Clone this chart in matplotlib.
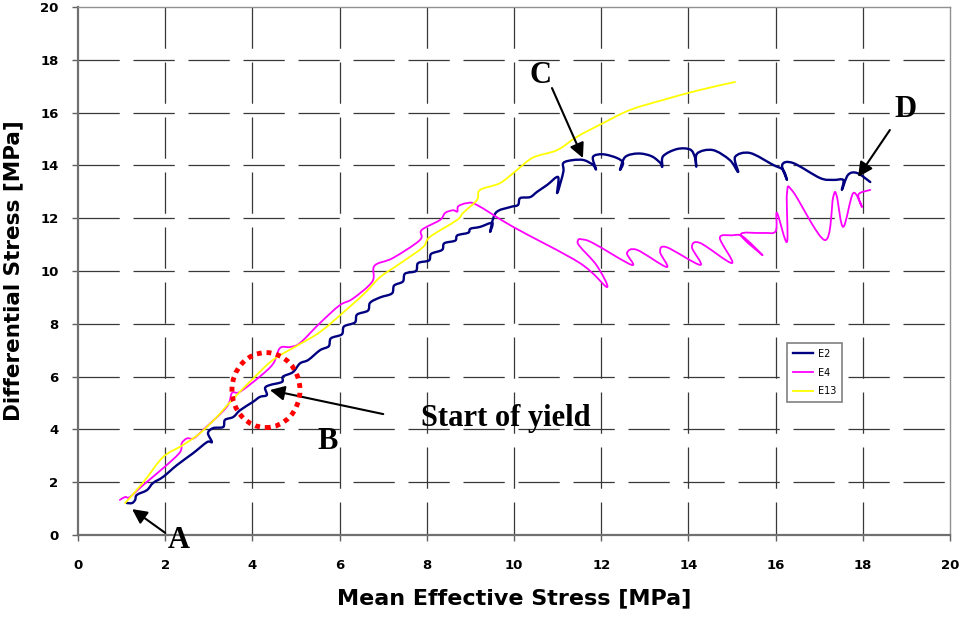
import matplotlib
matplotlib.use("Agg")
import matplotlib.pyplot as plt
import numpy as np
from matplotlib.patches import Ellipse, PathPatch
from matplotlib.path import Path
from matplotlib.lines import Line2D

# Sample E2: mean effective stress / differential stress (MPa)
e2_p = [1.12, 1.24, 1.31, 1.35, 1.58, 1.72, 1.95, 2.27, 2.64, 2.96, 3.07, 2.98, 3.10, 3.33,
        3.37, 3.56, 3.72, 4.01, 4.17, 4.33, 4.29, 4.40, 4.68, 4.70, 4.93, 5.09, 5.28, 5.55,
        5.75, 5.80, 6.05, 6.10, 6.35, 6.40, 6.65, 6.70, 6.93, 7.20, 7.25, 7.45, 7.50, 7.75,
        7.80, 8.05, 8.10, 8.35, 8.40, 8.65, 8.70, 8.95, 9.00, 9.22, 9.50, 9.45, 9.58, 9.91,
        10.09, 10.14, 10.37, 10.53, 10.76, 11.01, 10.99, 11.13, 11.13, 11.35, 11.60, 11.81,
        11.88, 11.81, 12.04, 12.36, 12.50, 12.43, 12.55, 12.85, 13.15, 13.35, 13.40, 13.42,
        13.74, 14.04, 14.15, 14.18, 14.20, 14.56, 14.95, 15.14, 15.07, 15.41, 15.94, 16.17,
        16.26, 16.15, 16.40, 17.02, 17.32, 17.55, 17.52, 17.66, 17.87, 18.17]
e2_q = [1.21, 1.21, 1.33, 1.52, 1.70, 1.97, 2.20, 2.65, 3.10, 3.52, 3.52, 3.86, 4.05, 4.09,
        4.36, 4.47, 4.73, 5.04, 5.23, 5.30, 5.57, 5.68, 5.80, 6.00, 6.17, 6.50, 6.63, 7.00,
        7.15, 7.45, 7.60, 7.90, 8.05, 8.35, 8.50, 8.80, 9.00, 9.15, 9.45, 9.60, 9.90, 10.00,
        10.30, 10.40, 10.65, 10.80, 11.05, 11.15, 11.35, 11.45, 11.60, 11.67, 11.82, 11.48,
        12.20, 12.42, 12.50, 12.76, 12.80, 13.00, 13.26, 13.56, 12.95, 13.75, 14.09, 14.20,
        14.20, 14.02, 13.85, 14.32, 14.42, 14.28, 14.09, 13.83, 14.32, 14.45, 14.35, 14.10,
        13.95, 14.35, 14.62, 14.60, 14.30, 13.95, 14.45, 14.58, 14.20, 13.75, 14.32, 14.47,
        14.02, 13.83, 13.45, 14.02, 14.09, 13.52, 13.45, 13.45, 13.07, 13.64, 13.71, 13.37]

# Sample E4
e4_p = [0.96, 1.08, 1.19, 1.50, 2.00, 2.34, 2.38, 2.50, 2.65, 2.87, 3.41, 3.53, 3.71, 4.17,
        4.48, 4.63, 4.86, 5.09, 5.55, 6.00, 6.30, 6.75, 6.80, 7.22, 7.84, 7.88, 8.30, 8.42,
        8.60, 8.70, 8.72, 8.92, 9.15, 9.98, 11.51, 12.13, 11.90, 11.50, 11.47, 11.55, 11.81,
        12.70, 12.59, 12.82, 13.50, 13.35, 13.50, 14.27, 14.08, 14.27, 15.00, 14.72, 15.00,
        15.25, 15.70, 15.20, 15.70, 16.00, 16.03, 16.26, 16.26, 16.40, 17.13, 17.32, 17.40,
        17.55, 17.78, 17.98, 17.90, 18.17]
e4_q = [1.33, 1.44, 1.44, 1.90, 2.60, 3.14, 3.48, 3.66, 3.66, 3.98, 4.85, 5.38, 5.42, 6.00,
        6.50, 7.08, 7.12, 7.27, 8.03, 8.70, 8.95, 9.60, 10.20, 10.49, 11.17, 11.55, 11.93,
        12.20, 12.30, 12.25, 12.45, 12.57, 12.50, 11.67, 10.30, 9.39, 10.20, 10.95, 11.17,
        11.20, 11.06, 10.23, 10.68, 10.80, 10.15, 10.72, 10.90, 10.23, 10.90, 11.06, 10.30,
        11.25, 11.35, 11.30, 10.60, 11.38, 11.44, 11.50, 12.20, 11.10, 12.95, 13.00, 11.17,
        12.80, 12.85, 11.67, 12.95, 12.42, 12.90, 13.07]

# Sample E13
e13_p = [1.08, 1.50, 1.95, 2.40, 2.80, 3.20, 3.53, 4.00, 4.47, 5.00, 5.55, 6.20, 6.60, 6.93,
         7.40, 7.91, 8.07, 8.69, 8.83, 9.15, 9.22, 9.68, 10.07, 10.44, 10.99, 11.44, 12.04,
         12.66, 13.42, 14.27, 15.07]
e13_q = [1.21, 2.00, 2.95, 3.40, 3.86, 4.50, 5.11, 5.90, 6.63, 7.15, 7.69, 8.60, 9.20, 9.77,
         10.30, 10.90, 11.29, 11.93, 12.20, 12.69, 13.07, 13.33, 13.83, 14.30, 14.58, 15.08,
         15.60, 16.10, 16.48, 16.86, 17.16]

series = [("E2", e2_p, e2_q, "#000080", 1.7),
          ("E4", e4_p, e4_q, "#FF00FF", 1.3),
          ("E13", e13_p, e13_q, "#FFFF00", 1.3)]

ticks = list(range(0, 21, 2))
tick_labels = [str(t) for t in ticks]


def smoothed_path(xs, ys):
    """Catmull-Rom style bezier through the points (like a spreadsheet 'smoothed line')."""
    pts = np.column_stack([xs, ys]).astype(float)
    padded = np.vstack([pts[0], pts, pts[-1]])
    verts = [pts[0]]
    codes = [Path.MOVETO]
    for i in range(1, len(padded) - 2):
        p0, p1, p2, p3 = padded[i - 1], padded[i], padded[i + 1], padded[i + 2]
        verts += [p1 + (p2 - p0) / 6, p2 - (p3 - p1) / 6, p2]
        codes += [Path.CURVE4] * 3
    return Path(verts, codes)


fig = plt.figure(figsize=(9.61, 6.18), dpi=100)
ax = fig.add_axes([0.0812, 0.1343, 0.9074, 0.8544])

handles = []
for name, xs, ys, color, lw in series:
    ax.add_patch(PathPatch(smoothed_path(xs, ys), fill=False, edgecolor=color, lw=lw,
                           capstyle="round", joinstyle="round", zorder=3))
    handles.append(Line2D([], [], color=color, lw=lw, label=name))

ax.set_xlim(0, 20)
ax.set_ylim(0, 20)
ax.set_xticks(ticks)
ax.set_yticks(ticks)
ax.set_xticklabels(tick_labels, fontsize=9.5, fontweight="bold")
ax.set_yticklabels(tick_labels, fontsize=9.5, fontweight="bold")
ax.tick_params(direction="out", length=4, width=1, color="#606060", pad=10)
ax.tick_params(axis="x", pad=13)

# long-dash grid, vertical lines dashed from the top down
grid_style = dict(color="#383838", lw=0.9, linestyle=(0, (33, 11)), zorder=0)
ax.vlines(ticks[1:-1], 20, 0, **grid_style)
ax.hlines(ticks[1:-1], 0, 20, **grid_style)

for side in ["left", "bottom"]:
    ax.spines[side].set_color("#707070")
    ax.spines[side].set_linewidth(1.6)
for side in ["top", "right"]:
    ax.spines[side].set_color("#909090")
    ax.spines[side].set_linewidth(1.0)

ax.set_xlabel("Mean Effective Stress [MPa]", fontsize=16, fontweight="heavy", labelpad=12)
ax.set_ylabel("Differential Stress [MPa]", fontsize=15.5, fontweight="heavy", labelpad=12)

# yield region marker
ax.add_patch(Ellipse((4.31, 5.49), 1.56, 2.84, fill=False, edgecolor="#FF0000",
                     lw=3.5, linestyle=(0, (1, 1)), zorder=5))

arrow = dict(arrowstyle="-|>", color="black", lw=1.5, mutation_scale=22, shrinkA=0, shrinkB=0)
serif = dict(family="Liberation Serif", fontweight="bold", fontsize=22, ha="center", va="center")
ax.annotate("", xy=(1.24, 0.98), xytext=(2.0, 0.08), arrowprops=arrow)
ax.annotate("", xy=(4.4, 5.49), xytext=(7.0, 4.58), arrowprops=arrow)
ax.annotate("", xy=(11.58, 14.28), xytext=(10.87, 16.93), arrowprops=arrow)
ax.annotate("", xy=(17.89, 13.56), xytext=(18.62, 15.34), arrowprops=arrow)
ax.text(2.3, -0.22, "A", clip_on=False, **serif)
ax.text(5.73, 3.56, "B", **serif)
ax.text(10.6, 17.42, "C", **serif)
ax.text(18.97, 16.1, "D", **serif)
ax.text(9.82, 4.4, "Start of yield", **serif)

leg = ax.legend(handles=handles, loc="upper left", bbox_to_anchor=(0.819, 0.445),
                bbox_transform=fig.transFigure, borderaxespad=0, fancybox=False,
                edgecolor="#808080", fontsize=7, handlelength=2.1, handletextpad=0.5,
                labelspacing=0.9, borderpad=0.6, framealpha=1)
leg.get_frame().set_linewidth(1.2)

fig.savefig("out.png", dpi=100)
